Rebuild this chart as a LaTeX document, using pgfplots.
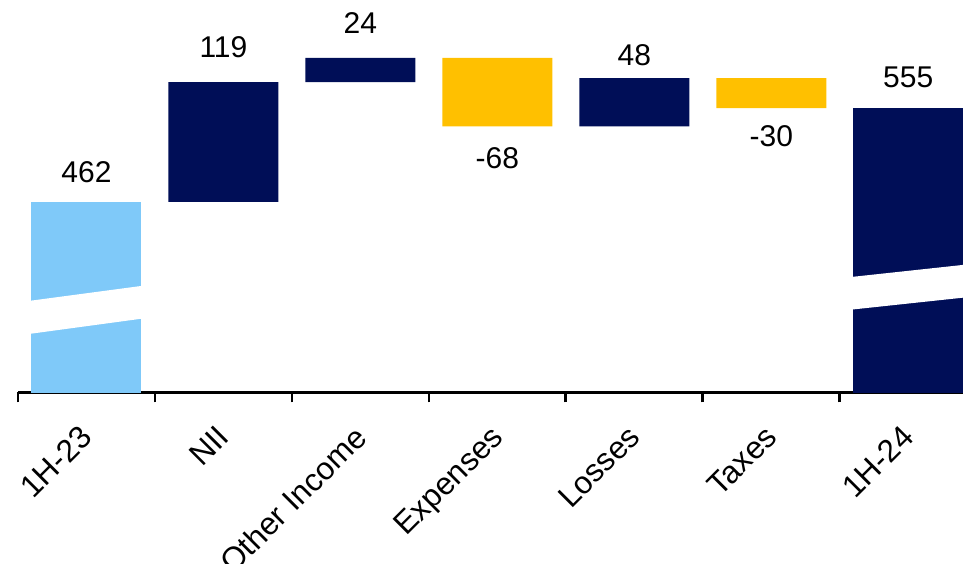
\documentclass[border=0pt]{standalone}
\usepackage{pgfplots}
\pgfplotsset{compat=1.18}
\usepackage{fontspec}
\setmainfont{Liberation Sans}
\definecolor{lblue}{RGB}{127,201,249}
\definecolor{navy}{RGB}{0,14,87}
\definecolor{gold}{RGB}{255,192,0}
\tikzset{vlab/.style={font=\fontsize{30}{36}\selectfont, inner sep=0pt}}
\begin{document}
\begin{tikzpicture}
\path[use as bounding box] (0pt,0pt) rectangle (963pt,564pt);
\begin{axis}[
  at={(18pt,171.5pt)}, anchor=south west,
  scale only axis, width=945pt, height=392.5pt,
  xmin=-0.5, xmax=6.4, ymin=273, ymax=662.4,
  ybar stacked, bar width=110pt,
  axis y line=none, axis x line*=bottom,
  axis line style={line width=3.3pt, black, -},
  x axis line style={line width=3.3pt, black, -},
  xtick={0,...,6},
  xticklabels={1H-23,NII,Other Income,Expenses,Losses,Taxes,1H-24},
  minor xtick={-0.5,0.5,...,5.5},
  major tick length=0pt, minor tick length=10pt,
  tick align=outside,
  tick style={line width=2.7pt, black},
  minor tick style={line width=2.7pt, black},
  xticklabel style={font=\fontsize{31.5}{38}\selectfont, xshift=-8pt, yshift=-31pt, rotate=45, anchor=north east, inner sep=0pt},
]
\addplot[draw=none, fill=none] coordinates {(0,0) (1,462) (2,581) (3,537) (4,537) (5,555) (6,0)};
\addplot[draw=none, fill=lblue] coordinates {(0,462) (1,0) (2,0) (3,0) (4,0) (5,0) (6,0)};
\addplot[draw=none, fill=navy] coordinates {(0,0) (1,119) (2,24) (3,0) (4,48) (5,0) (6,555)};
\addplot[draw=none, fill=gold] coordinates {(0,0) (1,0) (2,0) (3,68) (4,0) (5,30) (6,0)};
\node[vlab] at (axis cs:0,491.8) {462};
\node[vlab] at (axis cs:1,615.3) {119};
\node[vlab] at (axis cs:2,639.3) {24};
\node[vlab] at (axis cs:3,505.9) {-68};
\node[vlab] at (axis cs:4,608.1) {48};
\node[vlab] at (axis cs:5,527.3) {-30};
\node[vlab] at (axis cs:6,585.7) {555};
\end{axis}
\begin{axis}[
  at={(18pt,171.5pt)}, anchor=south west,
  scale only axis, width=945pt, height=392.5pt,
  xmin=-0.5, xmax=6.4, ymin=273, ymax=662.4,
  hide axis,
]
\addplot[fill=white, draw=none] coordinates {(-0.45,363.3) (0.45,379.6) (0.45,347.1) (-0.45,330.5)} -- cycle;
\addplot[fill=white, draw=none] coordinates {(5.55,387.1) (6.45,400.3) (6.45,367.8) (5.55,354.7)} -- cycle;
\end{axis}
\end{tikzpicture}
\end{document}
